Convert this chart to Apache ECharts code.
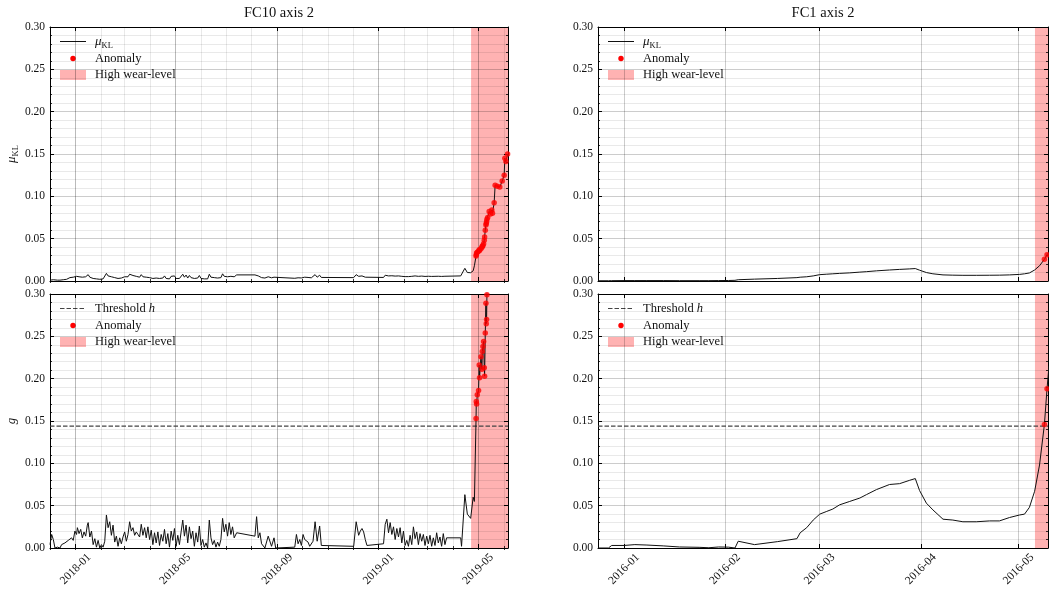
<!DOCTYPE html>
<html>
<head>
<meta charset="utf-8">
<script src="https://cdn.jsdelivr.net/npm/echarts@6/dist/echarts.min.js"></script>
<style>
  html, body { margin: 0; padding: 0; background: #fff; }
  #chart { width: 1049px; height: 593px; }
</style>
</head>
<body>
<div id="chart"></div>
<script>
const DAY = 86400000;

// ---------- FC10 axis 2 (days counted from leftStart) ----------
const leftStart = '2017-12-01';
const leftEndDay = 552;
const leftWearStartDay = 507.5;
const leftDay = [
  0, 2, 4, 6, 9, 12, 14, 16, 18, 20,
  22, 24, 26, 28, 30, 32, 33, 35, 37, 39,
  41, 43, 45, 46, 48, 50, 52, 54, 56, 58,
  60, 62, 64, 66, 68, 70, 72, 74, 76, 78,
  80, 82, 84, 86, 88, 90, 92, 94, 96, 98,
  100, 102, 104, 106, 108, 110, 112, 114, 116, 118,
  120, 122, 124, 126, 128, 130, 132, 134, 136, 138,
  140, 142, 144, 146, 148, 150, 152, 154, 156, 158,
  160, 162, 164, 166, 168, 170, 172, 174, 176, 178,
  180, 182, 184, 186, 188, 190, 192, 194, 196, 198,
  200, 202, 204, 206, 208, 210, 212, 214, 216, 218,
  220, 222, 225, 247, 249, 251, 253, 255, 257, 259,
  261, 263, 265, 267, 270, 272, 295, 297, 299, 301,
  303, 305, 307, 309, 311, 313, 315, 317, 319.5, 322,
  325, 327, 366, 369, 372, 374, 376, 378, 380, 382,
  402, 404, 406, 408, 410, 412, 414, 416, 418, 420,
  422, 424, 426, 428, 430, 432, 434, 436, 438, 440,
  442, 444, 446, 448, 450, 452, 454, 456, 458, 460,
  462, 464, 466, 468, 470, 472, 474, 476, 478, 495,
  496, 500, 503, 507, 510, 511.5,
  513.5, 513.8, 514.2, 515, 516.5, 517.3, 517.7, 519.4, 520.6, 521,
  521.8, 522.6, 523.4, 523.8, 524.6, 525.4, 525.8, 526.2, 526.6, 527.5,
  529.3, 531, 532.5, 533.3, 535.3, 536.5, 539, 542.1, 545, 547.4,
  548.2, 549.5, 551.5
];
const leftG = [
  .004, .016, .010, .000, .001, .000, .004, .002, .006, .004,
  .009, .007, .012, .009, .020, .016, .024, .017, .022, .012,
  .019, .014, .027, .030, .013, .020, .004, .011, .001, .009,
  .000, .004, .001, .008, .039, .024, .031, .015, .027, .007,
  .014, .002, .012, .005, .013, .019, .008, .016, .031, .020,
  .024, .015, .019, .016, .013, .028, .015, .024, .012, .025,
  .010, .021, .004, .018, .006, .019, .003, .016, .008, .022,
  .005, .017, .001, .020, .009, .023, .002, .015, .004, .019,
  .033, .014, .027, .006, .025, .011, .020, .002, .018, .007,
  .026, .003, .010, .001, .006, .000, .033, .012, .004, .009,
  .001, .007, .002, .010, .035, .019, .028, .014, .030, .016,
  .025, .012, .018, .014, .037, .012, .018, .005, .007, .000,
  .002, .014, .013, .002, .012, .000, .001, .016, .005, .010,
  .003, .016, .010, .011, .007, .002, .004, .008, .031, .008,
  .026, .003, .002, .031, .015, .020, .023, .019, .010, .003,
  .005, .028, .034, .018, .030, .016, .025, .010, .023, .013,
  .024, .006, .020, .003, .009, .002, .015, .004, .025, .011,
  .019, .004, .017, .008, .016, .003, .014, .005, .015, .002,
  .012, .003, .018, .006, .013, .002, .017, .004, .012, .012,
  .002, .063, .040, .035, .060, .055,
  .153, .173, .170, .181, .186, .216, .201, .226, .211, .232,
  .238, .244, .213, .203, .254, .289, .265, .270, .299, .330,
  .370, .400, .420, .410, .450, .520, .530, .550, .580, .620,
  .660, .680, .700
];
const leftMu = [
  .001, .002, .0015, .001, .001, .001, .0012, .0015, .002, .002,
  .003, .004, .005, .0045, .006, .0055, .0065, .005, .006, .0045,
  .0055, .005, .007, .0075, .0045, .005, .003, .004, .0025, .0035,
  .002, .003, .0025, .004, .009, .006, .007, .005, .006, .004,
  .0045, .003, .0045, .0035, .004, .005, .0035, .005, .008, .006,
  .0065, .005, .0055, .005, .0045, .0075, .005, .0065, .0045, .0065,
  .004, .0055, .003, .005, .0035, .005, .003, .005, .0035, .006,
  .003, .005, .0025, .0055, .004, .006, .003, .0045, .003, .005,
  .008, .0045, .007, .0035, .0065, .004, .0055, .003, .005, .0035,
  .0065, .003, .004, .0025, .0035, .0025, .008, .0045, .003, .004,
  .003, .0035, .003, .004, .0085, .0055, .0065, .005, .007, .0055,
  .0065, .005, .0072, .0072, .009, .006, .0055, .004, .004, .0035,
  .0035, .005, .0048, .0038, .0045, .0033, .0032, .005, .0038, .0042,
  .0036, .0052, .0045, .0046, .0042, .0036, .0038, .0042, .0075, .0045,
  .0068, .0042, .004, .0075, .0055, .006, .006, .0055, .0045, .004,
  .0042, .0068, .0075, .006, .0072, .0062, .007, .0058, .0068, .006,
  .007, .0055, .0065, .0052, .0058, .0052, .0062, .0055, .0072, .006,
  .0066, .0055, .0065, .0058, .0065, .0054, .0062, .0056, .0064, .0054,
  .0062, .0055, .0066, .0056, .0062, .0054, .0066, .0056, .006, .006,
  .005, .015, .010, .0098, .012, .018,
  .0295, .031, .033, .034, .035, .037, .036, .038, .040, .041,
  .042, .044, .048, .052, .060, .066, .068, .070, .073, .075,
  .082, .079, .084, .080, .0925, .113, .112, .111, .118, .125,
  .145, .141, .150
];
const leftTickLabels = ['2018-01', '2018-05', '2018-09', '2019-01', '2019-05'];
const leftMonths = [
  '2017-12', '2018-01', '2018-02', '2018-03', '2018-04', '2018-05', '2018-06',
  '2018-07', '2018-08', '2018-09', '2018-10', '2018-11', '2018-12', '2019-01',
  '2019-02', '2019-03', '2019-04', '2019-05', '2019-06'
];

// ---------- FC1 axis 2 (days counted from rightStart) ----------
const rightStart = '2015-12-24';
const rightEndDay = 138;
const rightWearStartDay = 134;
const rightDay = [
  0, 3.2, 4.2, 8, 11.3, 15, 20, 25, 31, 34,
  37, 40, 42, 43, 48, 55, 61, 62, 64, 66,
  68, 70, 72, 74.1, 77.2, 80.3, 82.3, 85.4, 89.4, 92.5,
  95.6, 97.3, 98.6, 100.7, 102.7, 105.8, 108.8, 111.9, 116, 120.1,
  123.1, 126.2, 129.3, 130.8, 132.3, 133.9, 135.4, 136.9, 137.7, 138.3
];
const rightG = [
  .000, .000, .003, .003, .004, .0035, .0025, .0012, .0008, .0003,
  .0012, .0010, .0000, .008, .004, .0075, .011, .018, .024, .033,
  .040, .043, .046, .051, .055, .059, .063, .069, .075, .076,
  .080, .082, .068, .053, .045, .034, .033, .031, .031, .032,
  .032, .036, .039, .040, .048, .067, .098, .146, .188, .215
];
const rightMu = [
  .0003, .0003, .0004, .0005, .0005, .0005, .0005, .0004, .0004, .0004,
  .0005, .0006, .0008, .0015, .0022, .003, .004, .0045, .005, .006,
  .0075, .008, .0085, .009, .0096, .0105, .011, .012, .013, .0137,
  .0143, .0147, .0128, .010, .0085, .0072, .0069, .0067, .0067, .0068,
  .0069, .0072, .0078, .0085, .0095, .013, .018, .0256, .031, .034
];
const rightTickLabels = ['2016-01', '2016-02', '2016-03', '2016-04', '2016-05'];

// detection threshold h on g
const threshold = 0.144;

// ---------- helpers ----------
const FONT = "'Liberation Serif', 'DejaVu Serif', serif";
const SPAN_COLOR = 'rgba(255,0,0,0.3)';
const LINE_COLOR = '#111';
const MAJOR_GRID = 'rgba(0,0,0,0.2)';
const MINOR_GRID = 'rgba(0,0,0,0.085)';

function parseDay(s) { const p = s.split('-').map(Number); return Date.UTC(p[0], p[1] - 1, p[2] || 1); }
function fmtMonth(v) {
  const d = new Date(v);
  return d.getUTCFullYear() + '-' + String(d.getUTCMonth() + 1).padStart(2, '0');
}

const panels = [
  { title: 'FC10 axis 2', rect: { left: 50, top: 27, width: 458, height: 254 }, start: leftStart, endDay: leftEndDay,
    wear: leftWearStartDay, days: leftDay, g: leftG, mu: leftMu, kind: 'mu', majors: leftTickLabels, minors: leftMonths,
    showX: false, yName: true },
  { rect: { left: 50, top: 294, width: 458, height: 254 }, start: leftStart, endDay: leftEndDay,
    wear: leftWearStartDay, days: leftDay, g: leftG, mu: leftMu, kind: 'g', majors: leftTickLabels, minors: leftMonths,
    showX: true, yName: true },
  { title: 'FC1 axis 2', rect: { left: 598, top: 27, width: 450, height: 254 }, start: rightStart, endDay: rightEndDay,
    wear: rightWearStartDay, days: rightDay, g: rightG, mu: rightMu, kind: 'mu', majors: rightTickLabels, minors: null,
    showX: false, yName: false },
  { rect: { left: 598, top: 294, width: 450, height: 254 }, start: rightStart, endDay: rightEndDay,
    wear: rightWearStartDay, days: rightDay, g: rightG, mu: rightMu, kind: 'g', majors: rightTickLabels, minors: null,
    showX: true, yName: false }
];

const grids = [], xAxes = [], yAxes = [], series = [], graphics = [];

function renderSpan(params, api) {
  const cs = params.coordSys;
  const x0 = api.coord([api.value(0), 0])[0];
  const x1 = Math.min(api.coord([api.value(1), 0])[0], cs.x + cs.width);
  return { type: 'rect', shape: { x: x0, y: cs.y, width: x1 - x0, height: cs.height },
           style: { fill: SPAN_COLOR } };
}
function renderThreshold(params, api) {
  const cs = params.coordSys;
  const y = api.coord([api.value(0), api.value(1)])[1];
  return { type: 'line', shape: { x1: cs.x, y1: y, x2: cs.x + cs.width, y2: y },
           style: { stroke: '#444', lineWidth: 1.2, lineDash: [4.5, 2] } };
}

function legendGroup(rect, kind) {
  const ch = [];
  const textEl = (text, y, rich) => ({ type: 'text', x: 45, y: y,
    style: { text: text, fontFamily: FONT, fontSize: 12.5, fill: '#111', align: 'left', verticalAlign: 'middle', rich: rich } });
  if (kind === 'mu') {
    ch.push({ type: 'line', shape: { x1: 10, y1: 14.5, x2: 36, y2: 14.5 }, style: { stroke: LINE_COLOR, lineWidth: 1 } });
    ch.push(textEl('{m|μ}{s|KL}', 15, {
      m: { fontFamily: FONT, fontStyle: 'italic', fontSize: 13, lineHeight: 16, fill: '#111' },
      s: { fontFamily: FONT, fontSize: 8.5, lineHeight: 10, verticalAlign: 'bottom', fill: '#111' } }));
  } else {
    ch.push({ type: 'line', shape: { x1: 10, y1: 14.5, x2: 36, y2: 14.5 }, style: { stroke: '#444', lineWidth: 1.2, lineDash: [4.5, 2] } });
    ch.push(textEl('Threshold {h|h}', 15, { h: { fontFamily: FONT, fontStyle: 'italic', fontSize: 12.5, fill: '#111' } }));
  }
  ch.push({ type: 'circle', shape: { cx: 23, cy: 31.5, r: 2.7 }, style: { fill: '#ff0000' } });
  ch.push(textEl('Anomaly', 31.5));
  ch.push({ type: 'rect', shape: { x: 10, y: 43, width: 26, height: 10 }, style: { fill: SPAN_COLOR } });
  ch.push(textEl('High wear-level', 48));
  return { type: 'group', x: rect.left, y: rect.top, z: 100, children: ch };
}

panels.forEach((p, gi) => {
  grids.push(Object.assign({ show: false, containLabel: false, outerBoundsMode: 'none' }, p.rect));
  const t0 = parseDay(p.start);
  const xMin = t0, xMax = t0 + p.endDay * DAY;
  const majors = p.majors.map(parseDay);
  // x in milliseconds since epoch on a linear axis
  const xBase = { type: 'value', gridIndex: gi, min: xMin, max: xMax, scale: true, z: 2 };

  if (p.minors) {
    const minors = p.minors.map(parseDay);
    xAxes.push(Object.assign({}, xBase, { position: 'bottom', axisLine: { show: false },
      axisTick: { show: true, inside: true, length: 2, customValues: minors, lineStyle: { color: '#000', width: 0.8 } },
      axisLabel: { show: false }, splitLine: { show: true, lineStyle: { color: MINOR_GRID, width: 1 } } }));
    xAxes.push(Object.assign({}, xBase, { position: 'top', axisLine: { show: false },
      axisTick: { show: true, inside: true, length: 2, customValues: minors, lineStyle: { color: '#000', width: 0.8 } },
      axisLabel: { show: false }, splitLine: { show: false } }));
  }
  const xi = xAxes.length;
  xAxes.push(Object.assign({}, xBase, { position: 'bottom',
    axisLine: { show: true, onZero: false, lineStyle: { color: '#000', width: 1 } },
    axisTick: { show: true, inside: true, length: 4, customValues: majors, lineStyle: { color: '#000' } },
    axisLabel: { show: p.showX, customValues: majors, formatter: fmtMonth, rotate: 45, align: 'center',
                 verticalAlign: 'middle', margin: 21, fontFamily: FONT, fontSize: 11.5, color: '#111' },
    splitLine: { show: true, lineStyle: { color: MAJOR_GRID, width: 1 } } }));
  xAxes.push(Object.assign({}, xBase, { position: 'top',
    axisLine: { show: true, onZero: false, lineStyle: { color: '#000', width: 1 } },
    axisTick: { show: true, inside: true, length: 4, customValues: majors, lineStyle: { color: '#000' } },
    axisLabel: { show: false }, splitLine: { show: false } }));

  const yBase = { type: 'value', gridIndex: gi, min: 0, max: 0.3, interval: 0.05, z: 2 };
  const yi = yAxes.length;
  const yName = !p.yName ? '' : (p.kind === 'mu' ? '{m|μ}{s|KL}' : '{m|g}');
  yAxes.push(Object.assign({}, yBase, { position: 'left',
    axisLine: { show: true, onZero: false, lineStyle: { color: '#000', width: 1 } },
    axisTick: { show: true, inside: true, length: 4, lineStyle: { color: '#000' } },
    minorTick: { show: true, splitNumber: 5, length: 2, lineStyle: { color: '#000', width: 0.8 } },
    axisLabel: { show: true, margin: 5, formatter: v => v.toFixed(2), fontFamily: FONT, fontSize: 11.5, color: '#111' },
    splitLine: { show: true, lineStyle: { color: MAJOR_GRID, width: 1 } },
    minorSplitLine: { show: true, lineStyle: { color: MINOR_GRID, width: 1 } },
    name: yName, nameLocation: 'middle', nameGap: 30, nameRotate: 90,
    nameTextStyle: { fontFamily: FONT, fontSize: 12.5, color: '#111',
      rich: { m: { fontFamily: FONT, fontStyle: 'italic', fontSize: 13, lineHeight: 16, color: '#111' },
              s: { fontFamily: FONT, fontSize: 8.5, lineHeight: 10, verticalAlign: 'bottom', color: '#111' } } } }));
  yAxes.push(Object.assign({}, yBase, { position: 'right',
    axisLine: { show: true, onZero: false, lineStyle: { color: '#000', width: 1 } },
    axisTick: { show: true, inside: true, length: 4, lineStyle: { color: '#000' } },
    minorTick: { show: true, splitNumber: 5, length: 2, lineStyle: { color: '#000', width: 0.8 } },
    axisLabel: { show: false }, splitLine: { show: false } }));

  const values = p.kind === 'mu' ? p.mu : p.g;
  const lineData = p.days.map((d, i) => [t0 + d * DAY, values[i]]);
  const anomalyData = [];
  p.days.forEach((d, i) => { if (p.g[i] > threshold) anomalyData.push([t0 + d * DAY, values[i]]); });

  series.push({ type: 'custom', name: 'High wear-level', xAxisIndex: xi, yAxisIndex: yi, z: 1, silent: true,
    renderItem: renderSpan, data: [[t0 + p.wear * DAY, xMax]] });
  if (p.kind === 'g') {
    series.push({ type: 'custom', name: 'Threshold h', xAxisIndex: xi, yAxisIndex: yi, z: 3, silent: true,
      renderItem: renderThreshold, data: [[xMin, threshold]] });
  }
  series.push({ type: 'line', name: p.kind === 'mu' ? 'μKL' : 'g', xAxisIndex: xi, yAxisIndex: yi, z: 3,
    data: lineData, symbol: 'none', showSymbol: false, clip: true, silent: true,
    lineStyle: { color: LINE_COLOR, width: 1 } });
  series.push({ type: 'scatter', name: 'Anomaly', xAxisIndex: xi, yAxisIndex: yi, z: 4, clip: true, silent: true,
    data: anomalyData, symbol: 'circle', symbolSize: 5.5, itemStyle: { color: '#ff0000' } });

  graphics.push(legendGroup(p.rect, p.kind));
  if (p.title) {
    graphics.push({ type: 'text', x: p.rect.left + p.rect.width / 2, y: 13, z: 100,
      style: { text: p.title, fontFamily: FONT, fontSize: 14.5, fill: '#111', align: 'center', verticalAlign: 'middle' } });
  }
});

const chart = echarts.init(document.getElementById('chart'), null, { renderer: 'canvas' });
chart.setOption({
  animation: false,
  backgroundColor: '#fff',
  textStyle: { fontFamily: FONT },
  grid: grids,
  xAxis: xAxes,
  yAxis: yAxes,
  series: series,
  graphic: graphics
});
</script>
</body>
</html>
